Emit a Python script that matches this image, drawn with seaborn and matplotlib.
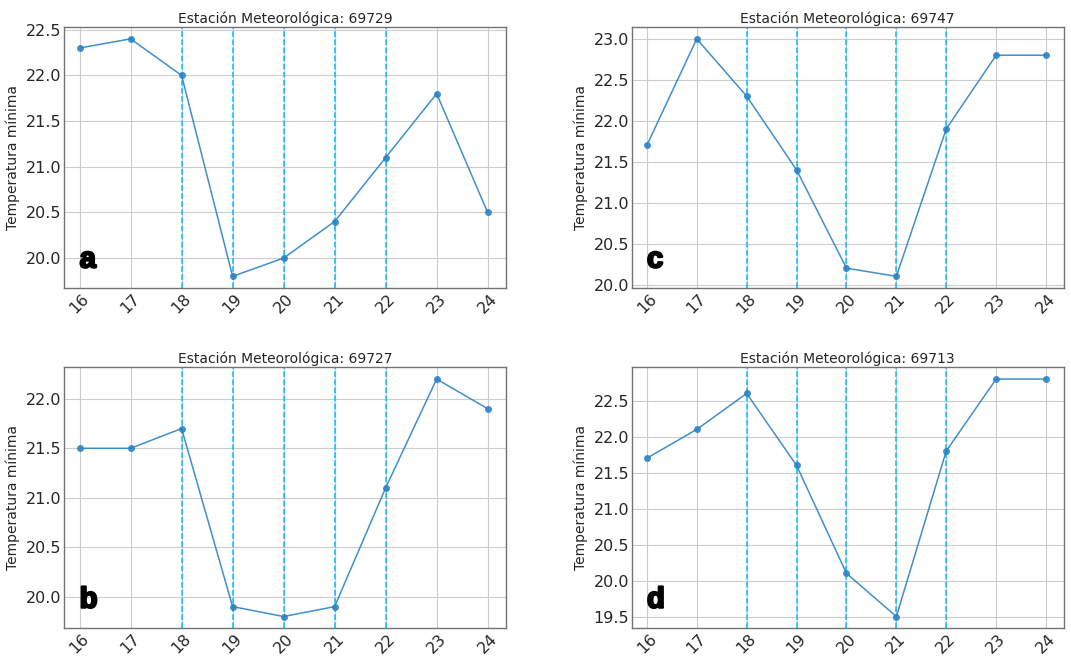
import numpy as np
import pandas as pd
import matplotlib
matplotlib.use("Agg")
import matplotlib.pyplot as plt
import matplotlib.patheffects as pe
import seaborn as sns

# Datos
dias = [16, 17, 18, 19, 20, 21, 22, 23, 24]
est_69729 = [22.3, 22.4, 22.0, 19.8, 20.0, 20.4, 21.1, 21.8, 20.5]
est_69727 = [21.5, 21.5, 21.7, 19.9, 19.8, 19.9, 21.1, 22.2, 21.9]
est_69747 = [21.7, 23.0, 22.3, 21.4, 20.2, 20.1, 21.9, 22.8, 22.8]
est_69713 = [21.7, 22.1, 22.6, 21.6, 20.1, 19.5, 21.8, 22.8, 22.8]
dias_marcados = [18, 19, 20, 21, 22]

sns.set_style("whitegrid", {"axes.edgecolor": "0.45", "grid.color": "0.8"})
plt.rcParams['font.family'] = ['DejaVu Sans']

fig = plt.figure(figsize=(10.71, 6.58), dpi=100)
posiciones = {
    "a": [0.060, 0.562, 0.412, 0.397],
    "c": [0.590, 0.562, 0.403, 0.397],
    "b": [0.060, 0.045, 0.412, 0.397],
    "d": [0.590, 0.045, 0.403, 0.397],
}
series = {"a": ("69729", est_69729), "c": ("69747", est_69747),
          "b": ("69727", est_69727), "d": ("69713", est_69713)}

for letra, pos in posiciones.items():
    ax = fig.add_axes(pos)
    est, vals = series[letra]
    df = pd.DataFrame({"dia": dias, "temp": vals})
    for d in dias_marcados:
        ax.axvline(d, color="deepskyblue", linestyle="--", linewidth=1.1, zorder=1)
    sns.lineplot(data=df, x="dia", y="temp", marker="o", markersize=5,
                 markeredgewidth=0, color="#2b83c6", linewidth=1.1, alpha=0.9, ax=ax, zorder=3)
    ax.set_title("Estación Meteorológica: " + est, fontsize=10, pad=3)
    ax.set_xlabel("")
    ax.set_ylabel("Temperatura mínima", fontsize=10, labelpad=4)
    ax.set_xticks(dias)
    ax.set_xticklabels([str(d) for d in dias], rotation=45)
    ax.tick_params(axis="both", labelsize=11.5, length=0, pad=2)
    ax.set_xlim(15.7, 24.35)
    ax.text(0.035, 0.11, letra, transform=ax.transAxes, fontsize=21,
            fontweight="heavy", family="Liberation Sans", color="black", va="center",
            path_effects=[pe.withStroke(linewidth=1.6, foreground="black")])
    for s in ax.spines.values():
        s.set_linewidth(1.0)

fig.savefig("out.png", dpi=100)
